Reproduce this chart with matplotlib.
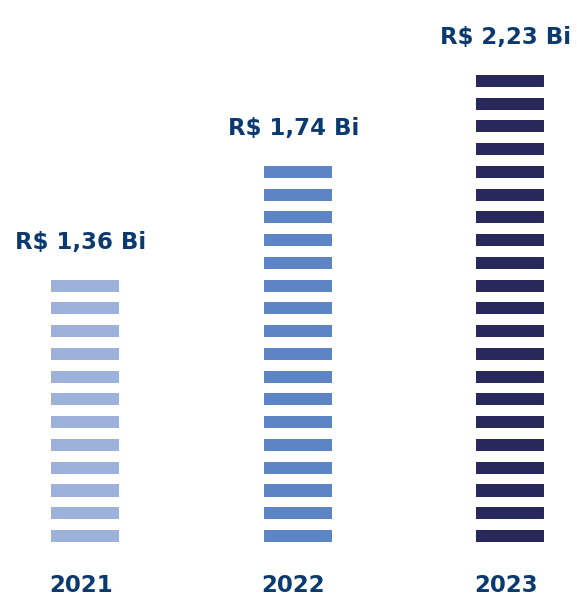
import numpy as np
import matplotlib.pyplot as plt
from matplotlib import rcParams

rcParams['font.family'] = ['DejaVu Sans']

# data
years = ['2021', '2022', '2023']
values = [1.36, 1.74, 2.23]
value_labels = ['R$ 1,36 Bi', 'R$ 1,74 Bi', 'R$ 2,23 Bi']
stripe_counts = [12, 17, 21]
colors = ['#9DB2DB', '#5D84C4', '#28285A']
text_color = '#0B3A70'

fig = plt.figure(figsize=(5.77, 5.98), dpi=100)
ax = fig.add_axes([0, 0, 1, 1])

stripe_h = 0.53
bar_w = 0.32
x = np.arange(len(years))

for xi, n, color, label, year in zip(x, stripe_counts, colors, value_labels, years):
    bottoms = np.arange(n)
    ax.bar(np.full(n, xi), stripe_h, width=bar_w, bottom=bottoms,
           color=color, align='center', edgecolor='none')
    # value label above the stack
    ax.annotate(label, xy=(xi, n - 1 + stripe_h), xytext=(-3, 27),
                textcoords='offset points', ha='center', va='center',
                fontsize=16.5, fontweight='bold', color=text_color)
    # year label below
    ax.text(xi - 0.02, -1.9, year, ha='center', va='center',
            fontsize=16.5, fontweight='bold', color=text_color)

ax.set_xlim(-0.4, 2.315)
ax.set_ylim(-2.46, 23.82)
ax.axis('off')

plt.savefig('out.png', dpi=100)
